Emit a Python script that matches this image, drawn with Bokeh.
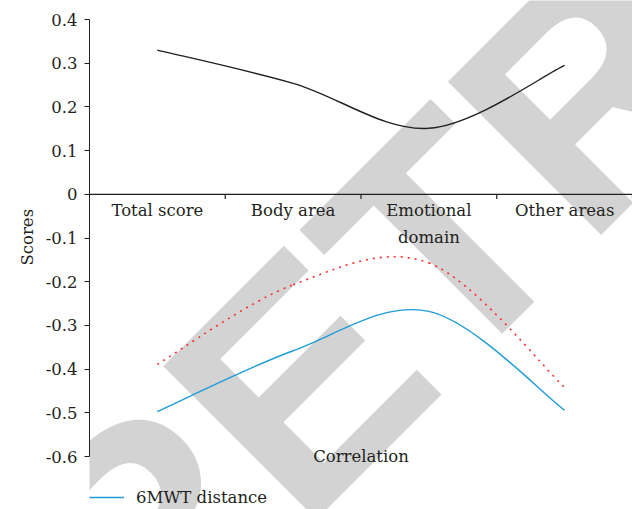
import math
from bokeh.plotting import figure
from bokeh.models import Range1d, FixedTicker, Label, Legend, LegendItem, Span, Title
from bokeh.embed import file_html
from bokeh.resources import INLINE
from bokeh.core.properties import value

# ---- data ----
categories = ["Total score", "Body area", "Emotional domain", "Other areas"]
category_labels = ["Total score", "Body area", "Emotional\ndomain", "Other areas"]
series_black = [0.330, 0.254, 0.151, 0.295]
series_red = [-0.389, -0.207, -0.157, -0.442]
series_blue = [-0.497, -0.358, -0.268, -0.494]
y_ticks = [-0.6, -0.5, -0.4, -0.3, -0.2, -0.1, 0.0, 0.1, 0.2, 0.3, 0.4]
y_tick_labels = ["-0.6", "-0.5", "-0.4", "-0.3", "-0.2", "-0.1", "0", "0.1", "0.2", "0.3", "0.4"]
legend_label = "6MWT distance"
x_title = "Correlation"
y_title = "Scores"
watermark = "RETRACTED"

FONT = "DejaVu Serif"
FS = "16.5px"
INK = "#231f20"

# layout (pixels)
W, H = 632, 509
LEFT = 89          # frame left
AX_TOP = 19        # pixel of top tick
AX_BOTTOM = 456    # pixel of bottom tick
Y_TITLE_BOTTOM = 265  # pixel where the vertical y title starts

n = len(categories)
xc = [i + 0.5 for i in range(n)]

ppu = (AX_BOTTOM - AX_TOP) / (y_ticks[-1] - y_ticks[0])
y_hi = y_ticks[-1] + AX_TOP / ppu
y_lo = y_ticks[0] - (H - AX_BOTTOM) / ppu

p = figure(width=W, height=H, output_backend="svg", toolbar_location=None,
           x_range=Range1d(0, n), y_range=Range1d(y_lo, y_hi),
           x_axis_location=None)
p.min_border_left = LEFT
p.min_border_right = 0
p.min_border_top = 0
p.min_border_bottom = 0
p.outline_line_color = None
p.xgrid.visible = False
p.ygrid.visible = False
p.background_fill_color = "white"
p.border_fill_color = "white"

# watermark
p.add_layout(Label(x=-0.19, y=-0.97, text=watermark, angle=math.radians(45),
                   text_font="Liberation Sans", text_font_style="bold",
                   text_font_size="315px", text_color="#d3d3d3",
                   text_align="left", text_baseline="alphabetic", level="underlay"))

# y axis
ax = p.yaxis[0]
ax.ticker = FixedTicker(ticks=y_ticks)
ax.bounds = (y_ticks[0], y_ticks[-1])
ax.major_label_overrides = {t: s for t, s in zip(y_ticks, y_tick_labels)}
ax.minor_tick_line_color = None
ax.major_tick_in = 0
ax.major_tick_out = 5
ax.axis_line_color = INK
ax.major_tick_line_color = INK
ax.major_label_text_font = FONT
ax.major_label_text_font_size = FS
ax.major_label_text_color = INK
ax.major_label_standoff = 7

# y title placed along the axis span
p.add_layout(Title(text=y_title, align="left", offset=H - Y_TITLE_BOTTOM, standoff=12,
                   text_font=FONT, text_font_size=FS, text_font_style="normal",
                   text_color=INK), "left")

# category axis drawn at y = 0
p.add_layout(Span(location=0, dimension="width", line_color=INK, line_width=1.2))
bounds = list(range(1, n + 1))
p.segment(x0=bounds, y0=[0] * len(bounds), x1=bounds, y1=[-0.011] * len(bounds),
          line_color=INK, line_width=1.2)
p.text(x=xc, y=[0] * n, text=category_labels, text_font=value(FONT),
       text_font_size=FS, text_color=INK, text_align="center",
       text_baseline="top", y_offset=7, text_line_height=1.38)


def smooth(xs, ys):
    m = len(xs)
    P = list(zip(xs, ys))
    x0, y0, x1, y1, cx0, cy0, cx1, cy1 = [], [], [], [], [], [], [], []
    for i in range(m - 1):
        pa = P[max(i - 1, 0)]
        p0 = P[i]
        p1 = P[i + 1]
        pb = P[min(i + 2, m - 1)]
        x0.append(p0[0]); y0.append(p0[1]); x1.append(p1[0]); y1.append(p1[1])
        cx0.append(p0[0] + (p1[0] - pa[0]) / 6); cy0.append(p0[1] + (p1[1] - pa[1]) / 6)
        cx1.append(p1[0] - (pb[0] - p0[0]) / 6); cy1.append(p1[1] - (pb[1] - p0[1]) / 6)
    return dict(x0=x0, y0=y0, x1=x1, y1=y1, cx0=cx0, cy0=cy0, cx1=cx1, cy1=cy1)


p.bezier(line_color=INK, line_width=1.4, **smooth(xc, series_black))
p.bezier(line_color="#ff2a2a", line_width=1.6, line_dash=value([2, 5]), **smooth(xc, series_red))
r_blue = p.bezier(line_color="#1e9cd8", line_width=1.4, **smooth(xc, series_blue))

p.add_layout(Label(x=n / 2, y=y_ticks[0], text=x_title, text_font=FONT,
                   text_font_size=FS, text_color=INK, text_align="center",
                   text_baseline="middle"))

legend = Legend(items=[LegendItem(label=legend_label, renderers=[r_blue])],
                location=(0, 2), padding=0, margin=0, spacing=0,
                glyph_width=35, glyph_height=20, label_height=20, label_standoff=12,
                label_text_font=FONT, label_text_font_size=FS, label_text_color=INK,
                background_fill_alpha=0, border_line_color=None)
p.add_layout(legend, "center")

open("out.html", "w").write(file_html(p, INLINE))
